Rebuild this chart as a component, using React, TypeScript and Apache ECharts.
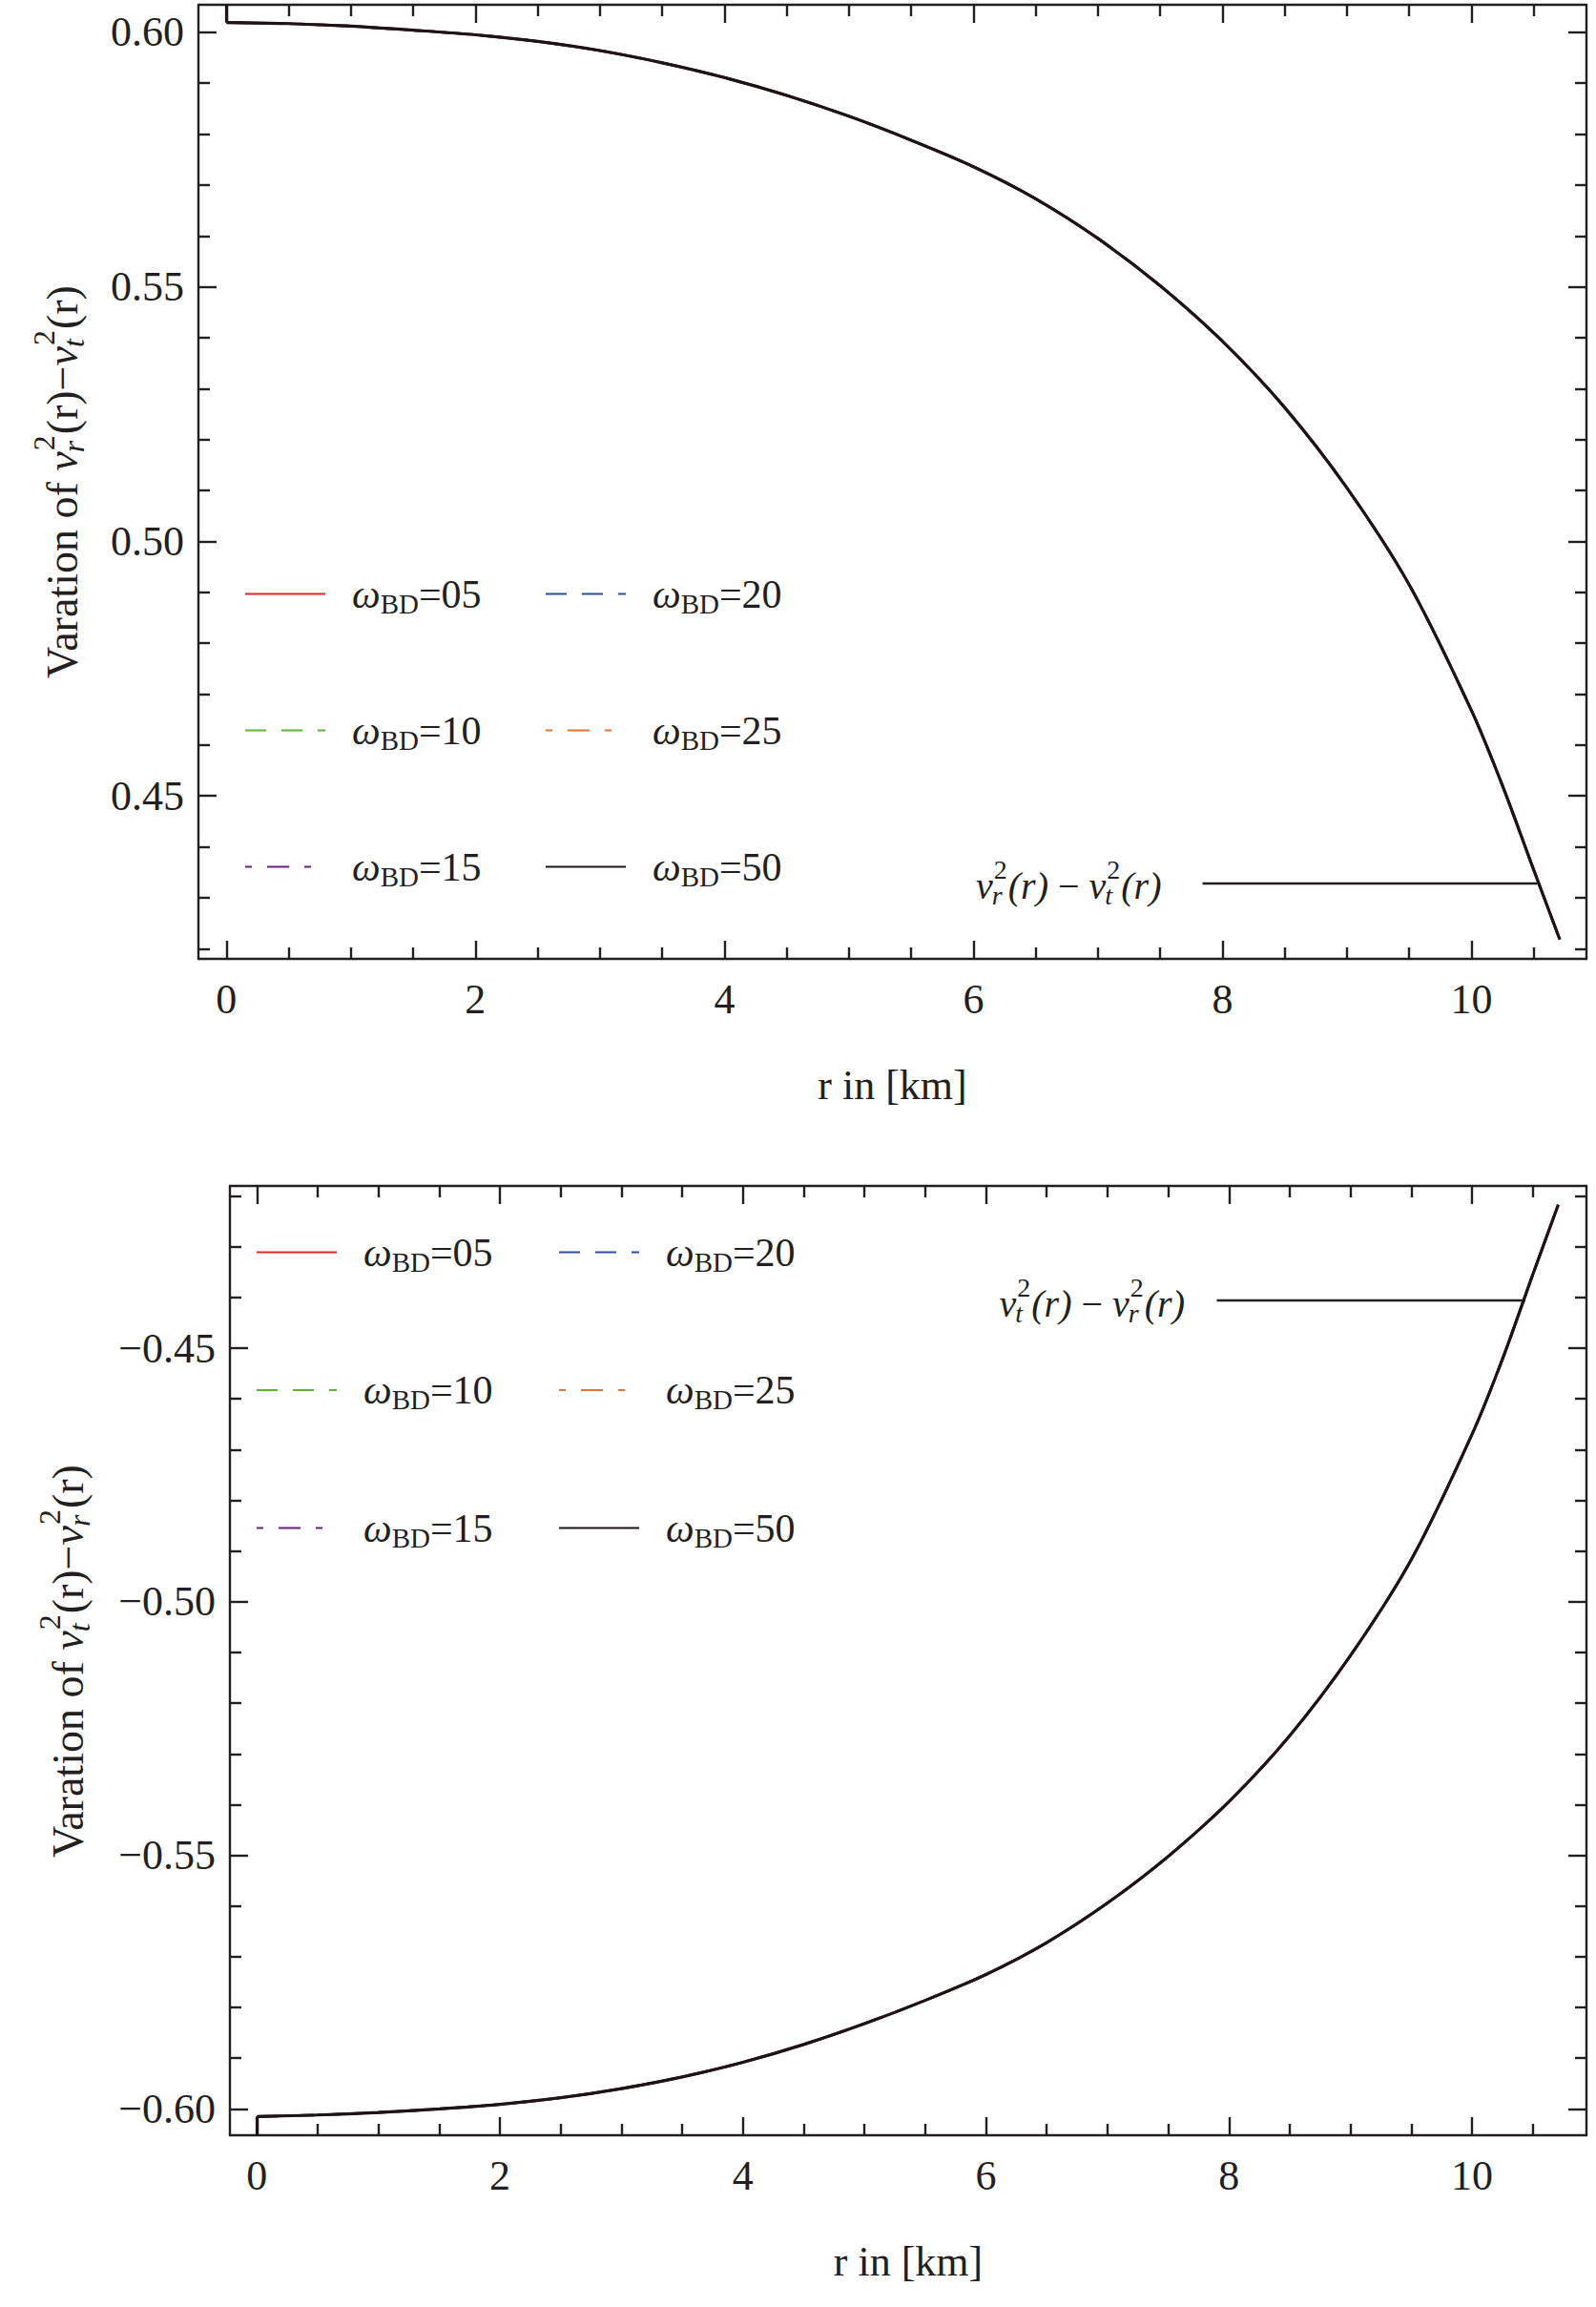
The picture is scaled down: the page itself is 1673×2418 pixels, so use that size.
import React, { useEffect, useRef } from "react";
import * as echarts from "echarts";

// ---------------- data ----------------
const R_KM = [0, 0.5, 1, 1.5, 2, 2.5, 3, 3.5, 4, 4.5, 5, 5.5, 6, 6.5, 7, 7.5, 8, 8.5, 9, 9.5, 10, 10.25, 10.5, 10.71];
const TOP_VALUES = [0.6019, 0.6017, 0.6012, 0.6004, 0.5995, 0.5982, 0.5964, 0.594, 0.5911, 0.5876, 0.5835, 0.5788, 0.5736, 0.5673, 0.5595, 0.5502, 0.5393, 0.5263, 0.5105, 0.4915, 0.4668, 0.452, 0.4355, 0.4218];
const BOTTOM_VALUES = [-0.6015, -0.6012, -0.6007, -0.6, -0.5991, -0.5978, -0.596, -0.5937, -0.5908, -0.5873, -0.5832, -0.5786, -0.5735, -0.5672, -0.5594, -0.5502, -0.5394, -0.5264, -0.5106, -0.4917, -0.467, -0.4522, -0.4355, -0.4217];

const OMEGA_VALUES = ["05", "10", "15", "20", "25", "50"];
const SERIES_COLORS = ["#e0262b", "#5ab630", "#6b1f88", "#2d4f9e", "#e8722e", "#1e1416"];
const SERIES_DASH: any[] = ["solid", [22, 16], [7, 16, 23, 16], [22, 16], [7, 16, 23, 16], "solid"];
const SERIES_WIDTH = [2.6, 2.6, 2.6, 2.6, 2.6, 3.2];

const X_MIN_TOP = -0.225, X_MAX_TOP = 10.924;
const Y_MIN_TOP = 0.418, Y_MAX_TOP = 0.6054;
const X_MIN_BOT = -0.222, X_MAX_BOT = 10.942;
const Y_MIN_BOT = -0.6052, Y_MAX_BOT = -0.418;

const X_MAJOR = [0, 2, 4, 6, 8, 10];
const X_MINOR = [0.5, 1, 1.5, 2.5, 3, 3.5, 4.5, 5, 5.5, 6.5, 7, 7.5, 8.5, 9, 9.5, 10.5];
const Y_TOP_MAJOR = [0.45, 0.5, 0.55, 0.6];
const Y_TOP_MINOR = [0.42, 0.43, 0.44, 0.46, 0.47, 0.48, 0.49, 0.51, 0.52, 0.53, 0.54, 0.56, 0.57, 0.58, 0.59];
const Y_BOT_MAJOR = [-0.6, -0.55, -0.5, -0.45];
const Y_BOT_MINOR = [-0.59, -0.58, -0.57, -0.56, -0.54, -0.53, -0.52, -0.51, -0.49, -0.48, -0.47, -0.46, -0.44, -0.43, -0.42];

// annotation pointers: [text start r, line start r, line end r], value
const TOP_POINTER_R = [6.02, 7.84, 10.53];
const TOP_POINTER_V = 0.4329;
const BOT_POINTER_R = [6.11, 7.9, 10.44];
const BOT_POINTER_V = -0.4406;

const X_TITLE = "r in [km]";

// ---------------- styling ----------------
const FAMILY = '"Liberation Serif", "Times New Roman", serif';
const INK = "#231f20";
const FS = 44;

let measureCtx: CanvasRenderingContext2D | null = null;
function textWidth(t: string, font: string): number {
  if (!measureCtx) measureCtx = document.createElement("canvas").getContext("2d");
  measureCtx!.font = font;
  return measureCtx!.measureText(t).width;
}

type Seg = { t?: string; it?: boolean; sup?: string; sub?: string };

function mathGroup(segs: Seg[], F: number, anchorCenter: boolean) {
  const Fs = Math.round(F * 0.7);
  const children: any[] = [];
  let x = 0;
  const base = 0.34 * F; // baseline below the middle line
  const st = (text: string, font: string) => ({
    text,
    font,
    fill: INK,
    textAlign: "left",
    textVerticalAlign: "middle",
    align: "left",
    verticalAlign: "middle",
  });
  for (const s of segs) {
    if (s.t !== undefined) {
      const font = `${s.it ? "italic " : ""}${F}px ${FAMILY}`;
      children.push({ type: "text", x, y: 0, style: st(s.t, font) });
      x += textWidth(s.t, font);
    } else {
      const fontSup = `${Fs}px ${FAMILY}`;
      const fontSub = `italic ${Fs}px ${FAMILY}`;
      const supMid = base - 0.52 * F - 0.34 * Fs;
      const subMid = base + 0.16 * F - 0.34 * Fs;
      children.push({ type: "text", x: x + 1, y: supMid, style: st(s.sup || "", fontSup) });
      children.push({ type: "text", x: x - 1, y: subMid, style: st(s.sub || "", fontSub) });
      x += Math.max(textWidth(s.sup || "", fontSup), textWidth(s.sub || "", fontSub)) + 2;
    }
  }
  if (anchorCenter) {
    const off = -x / 2;
    children.forEach((c) => (c.x += off));
  }
  return { children, width: x };
}

function xAxes(gridIndex: number, min: number, max: number) {
  const line = { show: true, onZero: false, lineStyle: { color: INK, width: 2.4 } };
  const tickStyle = { color: INK, width: 2.4 };
  const common = { type: "value", gridIndex, min, max, splitLine: { show: false } };
  return [
    {
      ...common,
      position: "bottom",
      axisLine: line,
      axisTick: { show: true, inside: true, length: 19, customValues: X_MAJOR, lineStyle: tickStyle },
      axisLabel: { show: true, customValues: X_MAJOR, margin: 20, color: INK, fontFamily: FAMILY, fontSize: FS, lineHeight: FS },
      name: X_TITLE,
      nameLocation: "middle",
      nameGap: 110,
      nameTextStyle: { color: INK, fontFamily: FAMILY, fontSize: FS, lineHeight: FS },
    },
    {
      ...common,
      position: "bottom",
      axisLine: { show: false, onZero: false },
      axisTick: { show: true, inside: true, length: 12, customValues: X_MINOR, lineStyle: tickStyle },
      axisLabel: { show: false },
    },
    {
      ...common,
      position: "top",
      axisLine: line,
      axisTick: { show: true, inside: true, length: 19, customValues: X_MAJOR, lineStyle: tickStyle },
      axisLabel: { show: false },
    },
    {
      ...common,
      position: "top",
      axisLine: { show: false, onZero: false },
      axisTick: { show: true, inside: true, length: 12, customValues: X_MINOR, lineStyle: tickStyle },
      axisLabel: { show: false },
    },
  ];
}

function yAxes(gridIndex: number, min: number, max: number, major: number[], minor: number[]) {
  const line = { show: true, onZero: false, lineStyle: { color: INK, width: 2.4 } };
  const tickStyle = { color: INK, width: 2.4 };
  const common = { type: "value", gridIndex, min, max, splitLine: { show: false } };
  const fmt = (v: number) => (v < 0 ? "\u2212" + Math.abs(v).toFixed(2) : v.toFixed(2));
  return [
    {
      ...common,
      position: "left",
      axisLine: line,
      axisTick: { show: true, inside: true, length: 19, customValues: major, lineStyle: tickStyle },
      axisLabel: { show: true, customValues: major, margin: 15, formatter: fmt, color: INK, fontFamily: FAMILY, fontSize: FS },
    },
    {
      ...common,
      position: "left",
      axisLine: { show: false, onZero: false },
      axisTick: { show: true, inside: true, length: 12, customValues: minor, lineStyle: tickStyle },
      axisLabel: { show: false },
    },
    {
      ...common,
      position: "right",
      axisLine: line,
      axisTick: { show: true, inside: true, length: 19, customValues: major, lineStyle: tickStyle },
      axisLabel: { show: false },
    },
    {
      ...common,
      position: "right",
      axisLine: { show: false, onZero: false },
      axisTick: { show: true, inside: true, length: 12, customValues: minor, lineStyle: tickStyle },
      axisLabel: { show: false },
    },
  ];
}

const seriesName = (v: string) => `ωBD=${v}`;

function makeSeries(axisIndex: number, values: number[], edgeV: number, pointerR: number[], pointerV: number) {
  const data = R_KM.map((r, i) => [r, values[i]]);
  const last = OMEGA_VALUES.length - 1;
  return OMEGA_VALUES.map((w, i) => ({
    type: "line",
    name: seriesName(w),
    xAxisIndex: axisIndex,
    yAxisIndex: axisIndex,
    data,
    symbol: "none",
    showSymbol: false,
    smooth: 0.3,
    clip: true,
    silent: true,
    z: 2 + i,
    itemStyle: { color: SERIES_COLORS[i] },
    lineStyle: { color: SERIES_COLORS[i], width: SERIES_WIDTH[i], type: SERIES_DASH[i] },
    markLine:
      i === last
        ? {
            silent: true,
            symbol: "none",
            label: { show: false },
            lineStyle: { color: INK, width: 2.4, type: "solid" },
            data: [
              [{ coord: [pointerR[1], pointerV] }, { coord: [pointerR[2], pointerV] }],
              [
                { coord: [R_KM[0], values[0]], lineStyle: { color: SERIES_COLORS[last], width: SERIES_WIDTH[last] } },
                { coord: [R_KM[0], edgeV] },
              ],
            ],
          }
        : undefined,
  }));
}

const legendRich = {
  w: { fontFamily: FAMILY, fontSize: 42, fontStyle: "italic", color: INK, lineHeight: 40 },
  s: { fontFamily: FAMILY, fontSize: 29, color: INK, lineHeight: 20, padding: [20, 0, 0, 0] },
  e: { fontFamily: FAMILY, fontSize: 42, color: INK, lineHeight: 40 },
};

function makeLegend(left: number, top: number, gap: number, names: string[]) {
  return {
    show: true,
    orient: "vertical",
    left,
    top,
    itemWidth: 84,
    itemHeight: 40,
    itemGap: gap,
    selectedMode: false,
    padding: 0,
    data: names,
    itemStyle: { opacity: 0, borderWidth: 0 },
    formatter: (name: string) => `{w|ω}{s|BD}{e|=${name.split("=")[1]}}`,
    textStyle: { rich: legendRich, padding: [0, 0, 0, 23] },
  };
}

const Y_TITLE_TOP: Seg[] = [
  { t: "Varation of " },
  { t: "v", it: true },
  { sup: "2", sub: "r" },
  { t: "(r)\u2212" },
  { t: "v", it: true },
  { sup: "2", sub: "t" },
  { t: "(r)" },
];
const Y_TITLE_BOT: Seg[] = [
  { t: "Varation of " },
  { t: "v", it: true },
  { sup: "2", sub: "t" },
  { t: "(r)\u2212" },
  { t: "v", it: true },
  { sup: "2", sub: "r" },
  { t: "(r)" },
];
const ANNOT_TOP: Seg[] = [
  { t: "v", it: true },
  { sup: "2", sub: "r" },
  { t: "(r)", it: true },
  { t: " \u2212 " },
  { t: "v", it: true },
  { sup: "2", sub: "t" },
  { t: "(r)", it: true },
];
const ANNOT_BOT: Seg[] = [
  { t: "v", it: true },
  { sup: "2", sub: "t" },
  { t: "(r)", it: true },
  { t: " \u2212 " },
  { t: "v", it: true },
  { sup: "2", sub: "r" },
  { t: "(r)", it: true },
];

export default function App() {
  const ref = useRef<HTMLDivElement>(null);
  useEffect(() => {
    if (!ref.current) return;
    const chart = echarts.init(ref.current, undefined, { renderer: "svg" });
    const names = OMEGA_VALUES.map(seriesName);
    const option: any = {
      animation: false,
      backgroundColor: "#ffffff",
      grid: [
        { left: 208, top: 5, width: 1455, height: 1000, containLabel: false },
        { left: 241, top: 1243, width: 1422, height: 995, containLabel: false },
      ],
      xAxis: [...xAxes(0, X_MIN_TOP, X_MAX_TOP), ...xAxes(1, X_MIN_BOT, X_MAX_BOT)],
      yAxis: [
        ...yAxes(0, Y_MIN_TOP, Y_MAX_TOP, Y_TOP_MAJOR, Y_TOP_MINOR),
        ...yAxes(1, Y_MIN_BOT, Y_MAX_BOT, Y_BOT_MAJOR, Y_BOT_MINOR),
      ],
      legend: [
        makeLegend(256, 598, 94, names.slice(0, 3)),
        makeLegend(571, 598, 94, names.slice(3)),
        makeLegend(268, 1288, 95.5, names.slice(0, 3)),
        makeLegend(585, 1288, 95.5, names.slice(3)),
      ],
      series: [
        ...makeSeries(0, TOP_VALUES, Y_MAX_TOP, TOP_POINTER_R, TOP_POINTER_V),
        ...makeSeries(4, BOTTOM_VALUES, Y_MIN_BOT, BOT_POINTER_R, BOT_POINTER_V),
      ],
    };
    chart.setOption(option);

    const pTop = chart.convertToPixel({ xAxisIndex: 0, yAxisIndex: 0 } as any, [TOP_POINTER_R[0], TOP_POINTER_V]) as number[];
    const pBot = chart.convertToPixel({ xAxisIndex: 4, yAxisIndex: 4 } as any, [BOT_POINTER_R[0], BOT_POINTER_V]) as number[];

    const yTop = mathGroup(Y_TITLE_TOP, 46, true);
    const yBot = mathGroup(Y_TITLE_BOT, 46, true);
    const aTop = mathGroup(ANNOT_TOP, 40, false);
    const aBot = mathGroup(ANNOT_BOT, 40, false);

    chart.setOption({
      graphic: [
        { type: "group", x: 65, y: 505, rotation: Math.PI / 2, children: yTop.children },
        { type: "group", x: 71, y: 1741, rotation: Math.PI / 2, children: yBot.children },
        { type: "group", x: pTop[0], y: pTop[1] + 3, children: aTop.children },
        { type: "group", x: pBot[0], y: pBot[1] + 3, children: aBot.children },
      ],
    });

    return () => chart.dispose();
  }, []);
  return <div ref={ref} style={{ position: "absolute", left: 0, top: 0, width: 1673, height: 2418 }} />;
}
